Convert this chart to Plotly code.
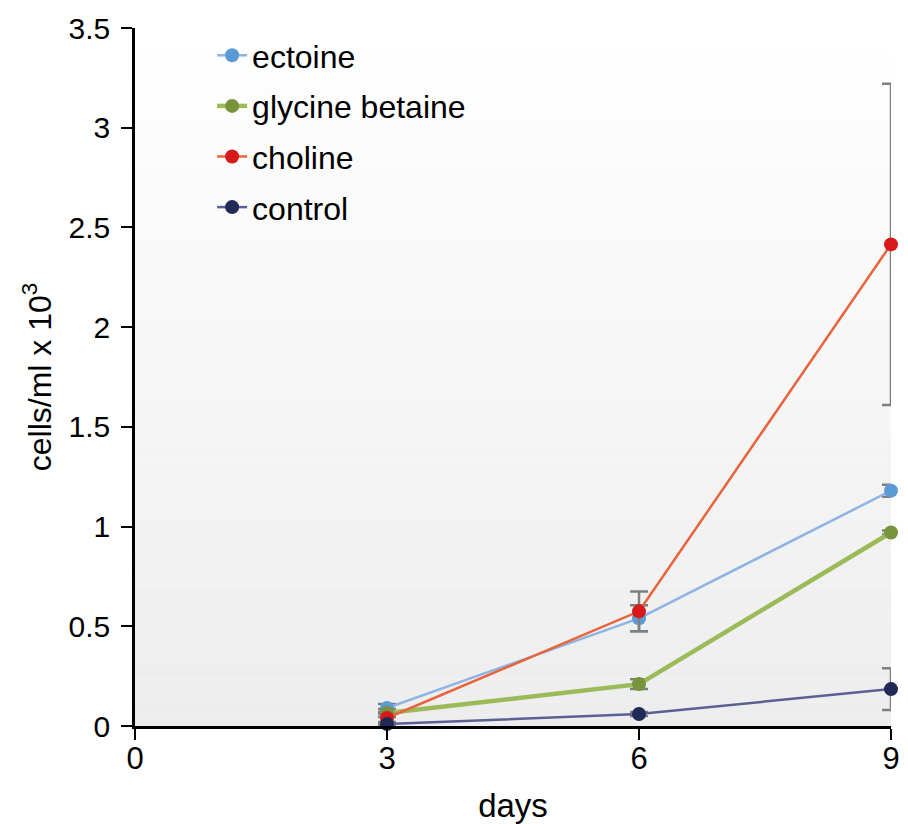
import plotly.graph_objects as go

days = [3, 6, 9]
series_names = ["ectoine", "glycine betaine", "choline", "control"]
ectoine = [0.09, 0.54, 1.18]
ectoine_err = [0.02, 0.065, 0.03]
glycine_betaine = [0.065, 0.21, 0.97]
glycine_betaine_err = [0.02, 0.025, 0.01]
choline = [0.04, 0.575, 2.415]
choline_err = [0.02, 0.10, 0.805]
control = [0.01, 0.06, 0.185]
control_err = [0.005, 0.01, 0.105]

x_ticks = [0, 3, 6, 9]
y_ticks = [0, 0.5, 1, 1.5, 2, 2.5, 3, 3.5]
y_tick_labels = ["0", "0.5", "1", "1.5", "2", "2.5", "3", "3.5"]

values = [ectoine, glycine_betaine, choline, control]
errors = [ectoine_err, glycine_betaine_err, choline_err, control_err]
line_colors = ["#8db4e2", "#9bbb59", "#e8643c", "#5a6094"]
marker_colors = ["#5b9bd5", "#77933c", "#d7191c", "#1f2a56"]
line_widths = [2.5, 4.5, 2.5, 2.5]

FONT = "Liberation Sans, Arial, Helvetica, sans-serif"

fig = go.Figure()
for name, v, e, lc, mc, lw in zip(series_names, values, errors, line_colors, marker_colors, line_widths):
    fig.add_trace(go.Scatter(
        x=days, y=v, name=name, mode="lines+markers",
        legendgroup=name,
        line=dict(color=lc, width=lw),
        marker=dict(color=mc, size=14),
        error_y=dict(type="data", array=e, visible=True, color="#7f7f7f",
                     thickness=2.5, width=9),
        cliponaxis=False,
    ))

# vertical gradient background (white top -> light gray bottom)
n = 60
shapes = []
for i in range(n):
    t = (i + 0.5) / n
    g = int(round(255 - (255 - 237) * t))
    shapes.append(dict(type="rect", xref="paper", yref="paper",
                       x0=0, x1=1, y0=1 - (i + 1) / n, y1=1 - i / n,
                       fillcolor=f"rgb({g},{g},{g})", line=dict(width=0),
                       layer="below"))

# page body has an 8px margin, so the figure is sized/offset to compensate
fig.update_layout(
    width=900, height=816,
    margin=dict(l=127, r=17, t=20, b=98),
    paper_bgcolor="white", plot_bgcolor="white",
    shapes=shapes,
    showlegend=True,
    legend=dict(x=0.102, y=1.0, xanchor="left", yanchor="top",
                bgcolor="rgba(0,0,0,0)", font=dict(family=FONT, size=32, color="black"),
                traceorder="grouped", tracegroupgap=6),
    xaxis=dict(range=[0, 9], tickvals=x_ticks, ticktext=[str(t) for t in x_ticks],
               automargin=False,
               showgrid=False, zeroline=False, showline=True, linecolor="black", linewidth=2.5,
               ticks="outside", ticklen=11, tickwidth=2, tickcolor="black",
               ticklabelstandoff=-8,
               tickfont=dict(family=FONT, size=31, color="black"),
               title=dict(text="days", font=dict(family=FONT, size=33, color="black"), standoff=22)),
    yaxis=dict(range=[0, 3.5], tickvals=y_ticks, ticktext=y_tick_labels,
               automargin=False,
               showgrid=False, zeroline=False, showline=True, linecolor="black", linewidth=2.5,
               ticks="outside", ticklen=11, tickwidth=2, tickcolor="black",
               ticklabelstandoff=5,
               tickfont=dict(family=FONT, size=30, color="black"),
               title=dict(text="cells/ml x 10<sup>3</sup>", font=dict(family=FONT, size=32, color="black"), standoff=8)),
)

fig.write_html("out.html")
